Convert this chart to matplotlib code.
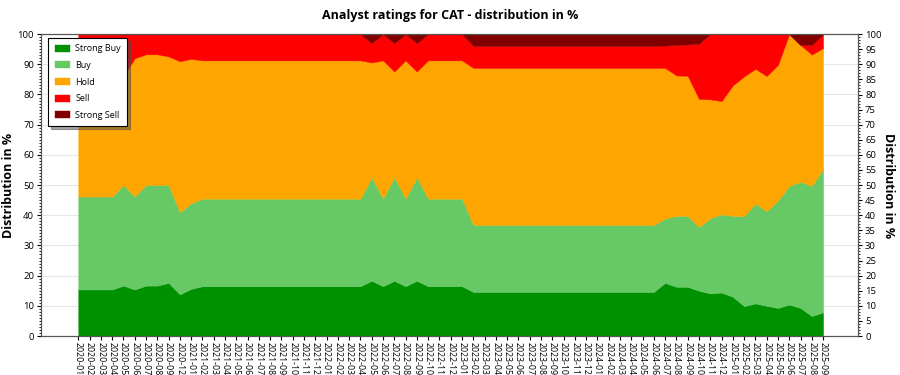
import matplotlib
matplotlib.use("Agg")
import matplotlib.pyplot as plt
from matplotlib.ticker import MultipleLocator

months = [
    "2020-01", "2020-02", "2020-03", "2020-04", "2020-05", "2020-06", "2020-07", "2020-08", "2020-09", "2020-12",
    "2021-01", "2021-02", "2021-03", "2021-04", "2021-05", "2021-06", "2021-07", "2021-08", "2021-09", "2021-10", "2021-11", "2021-12",
    "2022-01", "2022-02", "2022-03", "2022-04", "2022-05", "2022-06", "2022-07", "2022-08", "2022-09", "2022-10", "2022-11", "2022-12",
    "2023-01", "2023-02", "2023-03", "2023-04", "2023-05", "2023-06", "2023-07", "2023-08", "2023-09", "2023-10", "2023-11", "2023-12",
    "2024-01", "2024-02", "2024-03", "2024-04", "2024-05", "2024-06", "2024-07", "2024-08", "2024-09", "2024-10", "2024-11", "2024-12",
    "2025-01", "2025-02", "2025-03", "2025-04", "2025-05", "2025-06", "2025-07", "2025-08", "2025-09",
]

strong_buy = [
    15.4, 15.4, 15.4, 15.4, 16.7, 15.4, 16.7, 16.7, 17.6, 13.8,
    15.6, 16.5, 16.5, 16.5, 16.5, 16.5, 16.5, 16.5, 16.5, 16.5, 16.5, 16.5,
    16.5, 16.5, 16.5, 16.5, 18.3, 16.5, 18.3, 16.5, 18.3, 16.5, 16.5, 16.5,
    16.5, 14.6, 14.6, 14.6, 14.6, 14.6, 14.6, 14.6, 14.6, 14.6, 14.6, 14.6,
    14.6, 14.6, 14.6, 14.6, 14.6, 14.6, 17.6, 16.3, 16.3, 15.0, 14.1, 14.4,
    13.0, 9.9, 10.8, 10.0, 9.3, 10.4, 9.3, 6.6, 7.8,
]
buy = [
    30.8, 30.8, 30.8, 30.8, 33.3, 30.8, 33.3, 33.3, 32.4, 27.2,
    28.4, 29.0, 29.0, 29.0, 29.0, 29.0, 29.0, 29.0, 29.0, 29.0, 29.0, 29.0,
    29.0, 29.0, 29.0, 29.0, 34.3, 29.0, 34.3, 29.0, 34.3, 29.0, 29.0, 29.0,
    29.0, 22.2, 22.2, 22.2, 22.2, 22.2, 22.2, 22.2, 22.2, 22.2, 22.2, 22.2,
    22.2, 22.2, 22.2, 22.2, 22.2, 22.2, 21.3, 23.5, 23.5, 21.1, 24.9, 25.9,
    26.8, 29.8, 33.1, 31.3, 35.6, 39.3, 41.8, 43.1, 47.5,
]
hold = [
    38.4, 38.4, 38.4, 38.4, 36.0, 45.8, 43.3, 43.3, 42.6, 50.0,
    47.8, 45.8, 45.8, 45.8, 45.8, 45.8, 45.8, 45.8, 45.8, 45.8, 45.8, 45.8,
    45.8, 45.8, 45.8, 45.8, 38.0, 45.8, 35.0, 45.8, 35.0, 45.8, 45.8, 45.8,
    45.8, 52.0, 52.0, 52.0, 52.0, 52.0, 52.0, 52.0, 52.0, 52.0, 52.0, 52.0,
    52.0, 52.0, 52.0, 52.0, 52.0, 52.0, 49.9, 46.5, 46.4, 42.4, 39.4, 37.5,
    43.2, 46.3, 44.6, 44.8, 44.9, 50.3, 45.3, 43.5, 40.1,
]
sell = [
    15.4, 15.4, 15.4, 15.4, 14.0, 8.0, 6.7, 6.7, 7.4, 9.0,
    8.2, 8.7, 8.7, 8.7, 8.7, 8.7, 8.7, 8.7, 8.7, 8.7, 8.7, 8.7,
    8.7, 8.7, 8.7, 8.7, 6.4, 8.7, 9.4, 8.7, 9.4, 8.7, 8.7, 8.7,
    8.7, 7.3, 7.3, 7.3, 7.3, 7.3, 7.3, 7.3, 7.3, 7.3, 7.3, 7.3,
    7.3, 7.3, 7.3, 7.3, 7.3, 7.3, 7.4, 10.1, 10.4, 18.3, 21.6, 22.2,
    17.0, 14.0, 11.5, 13.9, 10.2, 0.0, 0.0, 3.2, 4.6,
]
strong_sell = [
    0.0, 0.0, 0.0, 0.0, 0.0, 0.0, 0.0, 0.0, 0.0, 0.0,
    0.0, 0.0, 0.0, 0.0, 0.0, 0.0, 0.0, 0.0, 0.0, 0.0, 0.0, 0.0,
    0.0, 0.0, 0.0, 0.0, 3.0, 0.0, 3.0, 0.0, 3.0, 0.0, 0.0, 0.0,
    0.0, 3.9, 3.9, 3.9, 3.9, 3.9, 3.9, 3.9, 3.9, 3.9, 3.9, 3.9,
    3.9, 3.9, 3.9, 3.9, 3.9, 3.9, 3.8, 3.6, 3.4, 3.2, 0.0, 0.0,
    0.0, 0.0, 0.0, 0.0, 0.0, 0.0, 3.6, 3.6, 0.0,
]

series_names = ["Strong Buy", "Buy", "Hold", "Sell", "Strong Sell"]
colors = ["#009100", "#66C966", "#FFA500", "#FF0000", "#800000"]

plt.rcParams["font.family"] = ["Open Sans", "DejaVu Sans"]

fig = plt.figure(figsize=(9, 3.75), dpi=100)
ax = fig.add_axes([0.0456, 0.104, 0.9078, 0.805])

x = list(range(len(months)))
polys = ax.stackplot(x, strong_buy, buy, hold, sell, strong_sell,
                     colors=colors, labels=series_names, linewidth=0.3, zorder=2)
for p, c in zip(polys, colors):
    p.set_edgecolor(c)

ax.set_xlim(-3.3, len(months) - 1 + 3.1)
ax.set_ylim(0, 100)
ax.set_xticks(x)
ax.set_xticklabels(months, rotation=-90, fontsize=6.3)
ax.tick_params(axis="x", length=3, pad=1)
ax.yaxis.set_major_locator(MultipleLocator(10))
ax.yaxis.set_minor_locator(MultipleLocator(1))
ax.tick_params(axis="y", which="major", labelsize=6.8, length=3, pad=2)
ax.tick_params(axis="y", which="minor", length=1.5)
ax.grid(axis="y", color="#e6e6e6", linewidth=0.8, zorder=0)
ax.set_axisbelow(True)
ax.set_ylabel("Distribution in %", fontsize=9, fontweight="bold", labelpad=2)

ax2 = ax.twinx()
ax2.set_ylim(0, 100)
ax2.yaxis.set_major_locator(MultipleLocator(5))
ax2.yaxis.set_minor_locator(MultipleLocator(1))
ax2.tick_params(axis="y", which="major", labelsize=6.8, length=3, pad=2)
ax2.tick_params(axis="y", which="minor", length=1.5)
ax2.set_ylabel("Distribution in %", fontsize=9, fontweight="bold", rotation=270, labelpad=10)

for a in (ax, ax2):
    for s in a.spines.values():
        s.set_color("#555555")
        s.set_linewidth(0.8)

fig.text(0.5, 0.958, "Analyst ratings for CAT - distribution in %", ha="center", va="center",
         fontsize=9, fontweight="bold")

leg = ax.legend(loc="upper left", bbox_to_anchor=(0.009, 0.987), borderaxespad=0,
                fontsize=6.5, fancybox=False, shadow=True, framealpha=1, edgecolor="black",
                handlelength=1.7, handleheight=0.8, handletextpad=0.6,
                labelspacing=0.85, borderpad=0.7)
leg.get_frame().set_linewidth(0.8)
leg.set_zorder(10)

fig.savefig("out.png", dpi=100)
